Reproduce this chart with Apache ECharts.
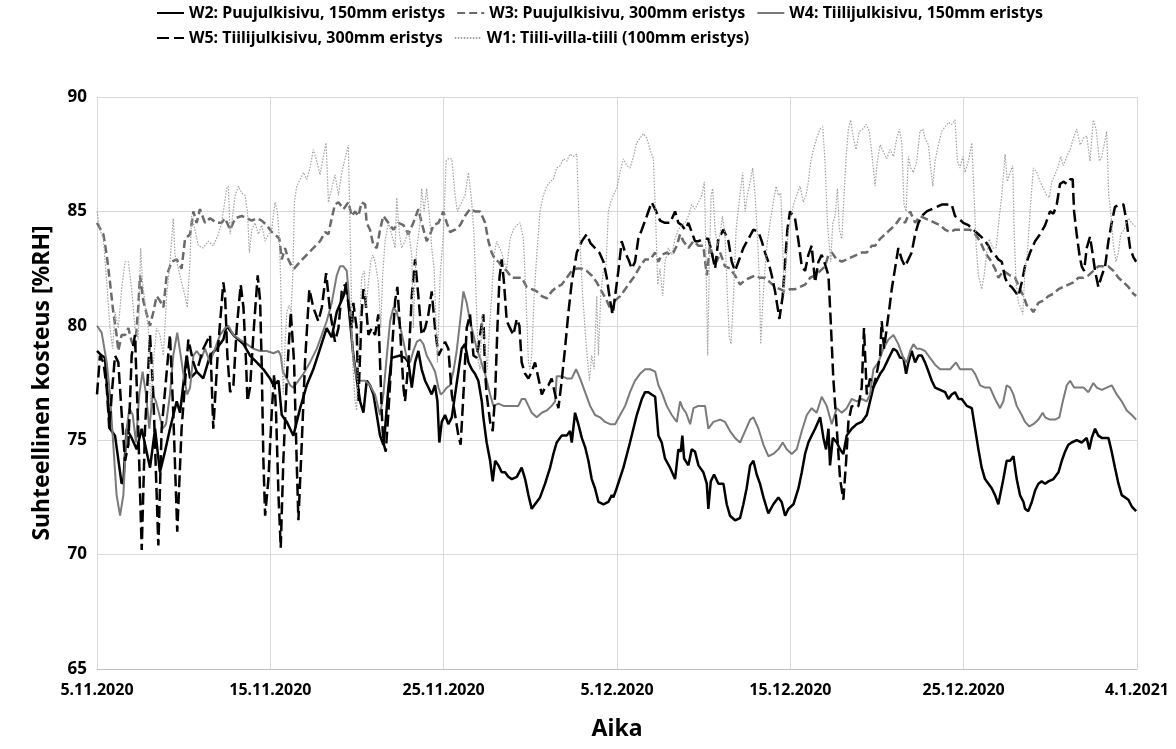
<!DOCTYPE html>
<html>
<head>
<meta charset="utf-8">
<script src="https://cdn.jsdelivr.net/npm/echarts@6/dist/echarts.min.js"></script>
<style>
  html, body { margin: 0; padding: 0; background: #fff; }
  #chart { width: 1176px; height: 749px; }
</style>
</head>
<body>
<div id="chart"></div>
<script>
// x = days since 5.11.2020, y = %RH
var xTickLabels = ["5.11.2020", "15.11.2020", "25.11.2020", "5.12.2020", "15.12.2020", "25.12.2020", "4.1.2021"];

var names = [
  "W2: Puujulkisivu, 150mm eristys",
  "W3: Puujulkisivu, 300mm eristys",
  "W4: Tiilijulkisivu, 150mm eristys",
  "W5: Tiilijulkisivu, 300mm eristys",
  "W1: Tiili-villa-tiili (100mm eristys)"
];

var w2 = [[0,78.9],[0.27,78.7],[0.46,78.6],[0.75,75.5],[1.04,75.2],[1.42,73.1],[1.52,73.2],[1.71,75.5],[2.0,75.1],[2.29,74.6],[2.58,75.5],[3.06,73.8],[3.35,75.5],[3.63,73.6],[3.92,74.5],[4.21,75.5],[4.6,76.7],[4.79,76.2],[5.17,78.7],[5.37,77.7],[5.75,78.0],[6.13,77.7],[6.52,78.7],[6.9,79.0],[7.29,79.4],
  [7.48,80.0],[7.87,79.6],[8.45,79.2],[8.83,78.7],[9.22,78.4],[9.6,78.1],[9.98,77.7],[10.18,77.4],[10.47,77.6],[10.66,76.1],[10.95,75.8],[11.14,75.5],[11.33,75.2],[11.72,76.4],[12.1,77.4],[12.48,78.1],[12.87,79.0],[13.25,79.9],[13.54,79.5],[13.83,80.6],[14.22,81.3],[14.41,81.9],[14.56,80.5],
  [14.79,78.7],[14.98,77.7],[15.18,76.7],[15.37,76.2],[15.56,77.6],[15.75,77.4],[15.95,77.0],[16.14,76.1],[16.33,75.2],[16.52,74.8],[16.62,75.5],[16.81,77.3],[17.0,78.6],[17.48,78.7],[17.77,78.6],[17.97,78.4],[18.16,77.3],[18.35,78.4],[18.54,78.9],[18.73,78.1],[18.93,77.6],[19.12,77.3],[19.31,77.0],[19.5,77.4],[19.64,76.7],[19.75,74.9],[19.89,75.8],[20.08,76.1],[20.27,75.7],[20.47,76.0],[20.66,77.0],[20.85,78.0],[21.04,79.0],[21.23,79.2],[21.43,78.4],[21.62,78.1],[21.81,77.9],[22.0,77.6],[22.2,76.7],
  [22.29,76.0],[22.48,74.9],[22.68,74.1],[22.83,73.2],[22.97,74.1],[23.16,73.9],[23.35,73.6],[23.54,73.6],[23.73,73.4],[23.93,73.3],[24.22,73.4],[24.5,73.8],[24.7,73.3],[24.89,72.6],[25.08,72.0],[25.27,72.2],[25.56,72.5],[25.85,73.1],[26.14,73.8],[26.33,74.4],[26.52,74.9],[26.81,75.2],[27.1,75.2],[27.29,75.4],[27.39,74.9],[27.58,76.2],[27.77,75.7],[27.97,75.1],[28.16,74.7],[28.35,74.1],[28.54,73.3],[28.73,72.9],[28.93,72.3],[29.22,72.2],[29.5,72.3],[29.7,72.6],
  [29.79,72.5],[29.98,72.9],[30.37,73.8],[30.75,74.9],[31.14,76.1],[31.43,76.8],[31.62,77.1],[31.81,77.1],[32.0,77.0],[32.2,76.9],[32.39,75.2],[32.58,74.9],[32.77,74.2],[33.06,73.8],[33.35,73.3],[33.54,74.6],[33.68,74.5],[33.77,75.2],[33.87,74.2],[34.12,73.9],[34.31,74.6],[34.5,74.5],[34.7,73.9],[34.98,73.6],[35.18,73.1],[35.27,72.0],[35.41,73.2],[35.6,73.5],[35.85,73.1],[36.14,73.1],[36.33,72.2],[36.52,71.7],[36.81,71.5],[37.1,71.6],
  [37.29,72.2],[37.48,72.9],[37.68,73.9],[37.87,74.1],[38.06,73.5],[38.25,73.1],[38.45,72.5],[38.73,71.8],[39.02,72.2],[39.31,72.5],[39.5,72.3],[39.7,71.7],[39.89,72.0],[40.18,72.2],[40.47,72.9],[40.66,73.6],[40.85,74.4],[41.04,74.9],[41.23,75.2],[41.43,75.5],[41.72,76.0],[41.91,75.1],[42.06,74.6],[42.2,75.5],[42.29,73.9],[42.45,75.1],[42.68,74.9],[42.87,74.6],[43.06,74.4],[43.25,75.2],[43.54,75.5],[43.83,75.7],[44.12,75.8],[44.41,76.1],[44.6,76.7],
  [44.79,77.3],[44.98,77.6],[45.18,77.9],[45.37,78.1],[45.56,78.4],[45.75,78.7],[45.95,79.0],[46.14,78.9],[46.33,78.6],[46.52,78.6],[46.68,77.9],[46.81,78.4],[47.0,78.9],[47.2,78.4],[47.39,78.7],[47.58,78.7],[47.77,78.4],[47.97,78.0],[48.16,77.6],[48.35,77.3],[48.64,77.2],[48.93,77.1],[49.12,76.8],[49.31,77.0],[49.5,77.1],[49.7,76.8],[49.89,76.8],[50.18,76.5],[50.47,76.4],[50.66,75.5],[50.85,74.6],[51.04,73.8],[51.23,73.3],[51.43,73.1],[51.62,72.9],[51.81,72.6],[52.0,72.2],
  [52.29,73.3],[52.48,74.1],[52.68,74.1],[52.87,74.3],[53.06,73.3],[53.25,72.6],[53.45,72.3],[53.54,72.0],[53.73,71.9],[53.93,72.3],[54.12,72.8],[54.31,73.1],[54.5,73.2],[54.7,73.1],[54.89,73.2],[55.18,73.3],[55.47,73.6],[55.66,74.1],[55.85,74.5],[56.04,74.8],[56.23,74.9],[56.52,75.0],[56.81,74.9],[57.1,75.1],[57.25,74.6],[57.39,75.1],[57.58,75.5],[57.77,75.2],[57.97,75.1],[58.16,75.1],[58.35,75.1],[58.54,74.5],[58.73,73.8],[58.93,73.1],[59.12,72.6],[59.31,72.5],[59.5,72.4],[59.7,72.1],[59.95,71.9]];

var w3 = [[0,84.5],[0.37,84.0],[0.56,83.1],[0.75,81.9],[0.94,80.6],[1.13,79.6],[1.23,78.9],[1.42,79.6],[1.62,79.6],[1.81,79.9],[2.0,79.3],[2.19,79.0],[2.38,80.8],[2.48,82.2],[2.67,81.1],[2.87,80.5],[3.06,80.0],[3.25,80.6],[3.44,81.3],[3.63,81.1],[3.83,80.8],[4.02,82.2],[4.31,82.8],[4.6,82.9],[4.88,82.5],[5.08,83.8],[5.37,84.0],[5.56,85.0],[5.75,84.5],[5.94,85.1],[6.23,84.5],[6.52,84.7],[6.9,84.5],[7.19,84.5],
  [7.39,84.7],[7.68,84.2],[7.97,84.7],[8.35,84.8],[8.64,84.7],[8.93,84.6],[9.22,84.7],[9.5,84.6],[9.79,84.4],[10.08,84.1],[10.27,84.0],[10.52,83.8],[10.66,82.9],[10.85,83.4],[11.04,82.9],[11.23,82.6],[11.37,82.5],[11.72,82.8],[12.1,83.1],[12.48,83.4],[12.87,83.7],[13.16,84.1],[13.35,84.0],[13.54,84.7],[13.73,85.3],[13.93,85.4],[14.22,85.1],[14.5,85.4],[14.7,84.8],
  [14.89,85.0],[15.08,84.8],[15.27,85.4],[15.47,85.3],[15.56,84.5],[15.75,84.2],[15.95,83.5],[16.14,83.4],[16.33,84.2],[16.52,84.8],[16.81,84.5],[17.1,84.2],[17.39,84.5],[17.68,84.4],[17.97,84.0],[18.25,84.5],[18.54,85.1],[18.73,84.5],[19.02,83.7],[19.22,84.0],[19.41,84.4],[19.7,84.5],[19.98,85.0],[20.18,84.5],[20.37,84.1],[20.66,84.2],[20.95,84.4],[21.23,84.8],[21.52,85.1],[21.81,85.0],[22.1,85.0],[22.39,84.5],
  [22.58,83.7],[22.77,83.2],[22.97,82.9],[23.16,82.8],[23.35,82.6],[23.64,82.4],[23.93,82.1],[24.22,82.1],[24.5,82.1],[24.79,81.7],[25.08,81.6],[25.37,81.5],[25.66,81.3],[25.95,81.2],[26.23,81.5],[26.52,81.7],[26.81,81.8],[27.1,82.1],[27.39,82.4],[27.68,82.5],[27.97,82.5],[28.25,82.4],[28.54,82.2],[28.83,81.9],[29.12,81.5],[29.41,81.1],[29.7,80.6],
  [29.89,81.1],[30.18,81.3],[30.47,81.6],[30.75,81.9],[31.04,82.2],[31.33,82.6],[31.62,82.9],[31.91,82.9],[32.2,83.2],[32.39,82.8],[32.58,83.1],[32.87,83.2],[33.06,83.1],[33.25,83.2],[33.45,83.5],[33.64,84.0],[33.83,83.7],[34.12,83.4],[34.41,83.7],[34.7,83.5],[34.98,83.5],[35.18,82.2],[35.37,83.5],[35.56,82.9],[35.75,82.8],[35.95,83.2],[36.23,82.6],[36.52,82.5],[36.81,82.2],[37.1,81.8],
  [37.39,82.0],[37.68,82.1],[37.97,82.2],[38.25,82.1],[38.54,82.1],[38.83,81.9],[39.12,81.7],[39.41,81.6],[39.7,81.5],[39.98,81.6],[40.27,81.6],[40.56,81.7],[40.85,81.8],[41.14,82.1],[41.43,82.2],[41.72,82.4],[42.0,82.6],[42.2,83.1],[42.39,83.2],[42.68,82.9],[42.97,82.8],[43.25,82.9],[43.54,83.0],[43.83,83.1],[44.12,83.2],[44.41,83.2],[44.7,83.5],
  [44.89,83.5],[45.18,83.8],[45.47,84.0],[45.75,84.2],[46.04,84.4],[46.33,84.7],[46.62,84.5],[46.91,85.0],[47.2,84.5],[47.48,84.8],[47.77,84.7],[48.06,84.6],[48.35,84.5],[48.64,84.4],[48.93,84.2],[49.22,84.1],[49.5,84.2],[49.79,84.2],[50.08,84.2],[50.37,84.2],[50.66,84.0],[50.95,83.7],[51.23,83.2],[51.52,82.9],[51.81,82.5],[52.0,82.1],
  [52.29,82.4],[52.68,82.2],[52.97,82.1],[53.25,81.6],[53.45,81.3],[53.64,80.9],[53.83,80.8],[54.02,80.6],[54.31,81.0],[54.6,81.1],[54.89,81.3],[55.18,81.4],[55.47,81.6],[55.75,81.7],[56.04,81.8],[56.33,81.9],[56.62,82.1],[56.91,82.1],[57.2,82.2],[57.48,82.4],[57.77,82.6],[58.06,82.6],[58.35,82.6],[58.64,82.4],[58.93,82.1],[59.22,81.9],[59.5,81.7],[59.79,81.4],[59.95,81.3]];

var w4 = [[0,80.0],[0.27,79.7],[0.56,78.4],[0.75,77.0],[0.94,74.8],[1.13,72.6],[1.33,71.7],[1.52,72.6],[1.71,75.5],[1.87,76.4],[2.06,76.1],[2.25,74.9],[2.44,77.0],[2.63,78.0],[2.83,77.0],[3.02,75.5],[3.21,77.0],[3.4,76.7],[3.6,76.1],[3.79,75.5],[3.98,75.7],[4.21,77.0],[4.4,78.7],[4.63,79.7],[4.83,78.7],[5.02,77.7],[5.21,77.0],[5.37,77.3],[5.56,78.7],[5.75,78.9],[6.04,78.6],[6.23,79.0],[6.52,78.4],[6.81,79.0],[7.1,79.6],
  [7.39,79.9],[7.58,80.0],[7.87,79.6],[8.25,79.4],[8.64,79.2],[9.02,79.0],[9.41,78.9],[9.79,78.9],[10.18,78.8],[10.47,78.9],[10.6,78.7],[10.72,78.0],[10.95,77.7],[11.14,77.4],[11.33,77.3],[11.62,77.6],[11.91,77.9],[12.29,78.4],[12.68,79.0],[12.97,79.6],[13.25,80.2],[13.54,81.0],[13.83,82.2],[14.02,82.6],[14.22,82.6],[14.41,82.4],[14.6,80.6],[14.79,78.6],
  [14.98,77.7],[15.18,77.6],[15.47,77.6],[15.75,77.4],[16.04,77.0],[16.33,76.1],[16.52,77.0],[16.72,78.7],[16.91,80.2],[17.1,80.8],[17.29,80.6],[17.48,80.0],[17.68,79.3],[17.87,78.6],[18.06,78.4],[18.25,78.9],[18.45,79.3],[18.64,79.4],[18.83,79.2],[19.02,78.7],[19.31,78.3],[19.5,78.0],[19.7,77.3],[19.83,77.0],[19.98,77.1],[20.18,77.3],[20.37,77.4],[20.56,78.0],[20.75,78.9],[20.95,80.2],[21.14,81.5],[21.33,81.0],[21.52,80.2],[21.72,79.6],[21.91,79.0],[22.1,78.6],[22.29,78.1],
  [22.39,77.9],[22.68,77.0],[22.87,76.5],[23.16,76.6],[23.45,76.5],[23.73,76.5],[24.02,76.5],[24.31,76.5],[24.5,76.8],[24.7,76.8],[24.89,76.5],[25.08,76.2],[25.37,76.0],[25.66,76.2],[25.95,76.3],[26.23,76.5],[26.43,76.7],[26.52,77.8],[26.81,77.8],[27.1,77.7],[27.39,77.7],[27.64,78.1],[27.87,77.7],[28.16,77.1],[28.45,76.5],[28.73,76.1],[29.02,76.0],[29.31,75.8],[29.6,75.7],
  [29.89,75.7],[30.18,76.1],[30.47,76.5],[30.75,77.1],[31.04,77.6],[31.33,77.9],[31.62,78.1],[31.91,78.1],[32.2,78.0],[32.39,77.4],[32.58,77.1],[32.87,76.5],[33.16,76.1],[33.45,75.8],[33.64,76.7],[33.79,76.4],[33.98,76.2],[34.22,75.7],[34.41,76.4],[34.7,76.5],[35.08,76.5],[35.27,75.5],[35.56,75.8],[35.95,75.9],[36.23,75.8],[36.52,75.4],[36.81,75.1],[37.1,74.9],
  [37.39,75.4],[37.68,75.9],[37.87,76.0],[38.16,75.5],[38.45,74.8],[38.73,74.3],[39.02,74.4],[39.31,74.6],[39.56,74.9],[39.79,74.6],[40.08,74.4],[40.37,74.6],[40.66,75.4],[40.95,76.1],[41.23,76.4],[41.52,76.2],[41.81,76.9],[42.1,76.5],[42.39,75.7],[42.68,76.4],[42.97,76.2],[43.25,76.4],[43.54,76.8],[43.83,76.7],[44.12,76.8],[44.41,76.7],[44.6,77.0],
  [44.79,78.1],[45.08,78.4],[45.37,79.0],[45.66,79.4],[45.95,79.6],[46.23,79.2],[46.52,78.6],[46.72,78.4],[46.91,78.9],[47.1,79.2],[47.29,79.0],[47.48,79.0],[47.77,78.9],[48.06,78.6],[48.35,78.3],[48.64,78.1],[48.93,78.1],[49.22,78.1],[49.56,78.4],[49.79,78.1],[50.18,78.1],[50.47,78.1],[50.66,77.9],[50.95,77.4],[51.23,77.3],[51.52,77.3],[51.81,76.8],[52.1,76.4],
  [52.29,76.7],[52.48,77.4],[52.68,77.3],[52.87,77.0],[53.06,76.5],[53.35,76.1],[53.54,75.8],[53.79,75.6],[54.02,75.7],[54.31,75.9],[54.56,76.2],[54.7,76.0],[54.98,75.9],[55.27,75.9],[55.52,76.0],[55.72,76.7],[55.95,77.4],[56.14,77.6],[56.37,77.3],[56.62,77.3],[56.91,77.3],[57.2,77.1],[57.48,77.5],[57.68,77.3],[57.97,77.2],[58.25,77.3],[58.54,77.4],[58.83,77.0],[59.12,76.7],[59.41,76.3],[59.7,76.1],[59.95,75.9]];

var w5 = [[0,77.0],[0.17,78.7],[0.37,78.4],[0.56,77.3],[0.71,75.5],[0.85,77.0],[1.04,78.7],[1.23,78.4],[1.42,76.2],[1.62,74.1],[1.81,74.8],[2.0,78.7],[2.19,79.6],[2.38,75.5],[2.58,70.2],[2.77,75.5],[3.06,79.6],[3.25,77.0],[3.54,70.4],[3.73,75.5],[4.21,79.6],[4.4,76.2],[4.63,71.0],[4.88,75.5],[5.27,79.4],[5.56,78.4],[5.75,78.0],[6.13,79.0],[6.52,79.6],[6.71,75.5],[7.0,79.2],[7.29,81.9],
  [7.39,81.3],[7.52,78.7],[7.68,77.1],[7.87,77.4],[8.06,79.9],[8.29,81.8],[8.45,80.8],[8.6,78.4],[8.68,76.7],[8.83,77.3],[9.02,79.6],[9.27,82.2],[9.41,81.1],[9.5,78.4],[9.6,74.1],[9.7,71.7],[9.89,73.3],[10.08,76.2],[10.22,77.9],[10.33,76.2],[10.47,72.6],[10.6,70.3],[10.75,74.1],[10.95,77.7],[11.18,80.6],[11.37,78.4],[11.52,74.1],[11.62,71.5],[11.81,74.8],[12.0,78.4],[12.25,81.6],[12.48,80.8],[12.77,80.2],[12.97,80.8],[13.22,82.3],[13.45,80.6],[13.73,79.3],[13.93,79.9],[14.12,81.5],[14.31,81.8],[14.5,81.0],[14.7,79.9],
  [14.79,81.0],[14.98,79.9],[15.08,76.7],[15.27,80.6],[15.37,81.6],[15.47,81.3],[15.66,79.6],[15.85,79.9],[16.04,79.6],[16.23,80.5],[16.33,78.4],[16.43,76.2],[16.52,74.9],[16.66,74.5],[16.81,76.2],[17.0,78.7],[17.2,81.1],[17.33,81.7],[17.48,79.9],[17.68,77.3],[17.77,76.7],[17.97,78.4],[18.16,81.3],[18.35,82.9],[18.54,81.3],[18.73,79.6],[18.93,79.9],[19.12,80.5],[19.31,81.5],[19.5,79.9],[19.7,78.7],[19.89,79.0],[20.08,79.3],[20.27,79.0],[20.47,77.0],[20.66,76.1],[20.85,75.2],[20.98,74.8],[21.14,77.0],[21.33,79.9],[21.52,80.5],[21.72,78.7],[21.91,78.6],[22.1,79.6],[22.29,80.5],
  [22.39,78.0],[22.48,77.0],[22.68,75.8],[22.83,75.4],[22.97,77.0],[23.1,79.9],[23.22,82.1],[23.35,82.9],[23.48,81.9],[23.64,80.2],[23.83,79.9],[24.02,79.6],[24.22,80.3],[24.37,80.0],[24.5,78.4],[24.7,77.9],[24.89,77.7],[25.08,78.0],[25.27,78.4],[25.47,77.7],[25.66,77.0],[25.85,77.3],[26.04,77.4],[26.23,77.7],[26.43,77.0],[26.62,76.4],[26.81,77.6],[27.0,79.0],[27.2,80.6],[27.39,81.9],[27.68,83.2],[27.97,83.7],[28.25,84.0],[28.48,83.6],[28.73,83.4],[28.98,83.2],[29.22,82.8],[29.41,82.1],[29.6,81.1],[29.75,80.5],
  [29.89,81.3],[30.08,82.4],[30.27,83.7],[30.47,83.2],[30.66,82.9],[30.85,82.5],[31.04,82.8],[31.23,83.8],[31.43,84.2],[31.72,84.8],[32.0,85.4],[32.2,85.1],[32.48,84.6],[32.77,84.5],[33.06,84.5],[33.35,85.0],[33.54,84.5],[33.73,84.4],[33.93,84.2],[34.12,84.5],[34.31,84.1],[34.5,83.7],[34.7,83.7],[34.98,83.8],[35.27,83.8],[35.47,83.2],[35.66,82.5],[35.85,83.8],[36.14,84.2],[36.43,83.7],[36.62,82.8],[36.81,82.4],[37.1,83.0],
  [37.29,83.4],[37.58,83.8],[37.87,84.2],[38.16,84.1],[38.35,83.7],[38.54,83.2],[38.73,82.8],[38.93,82.2],[39.12,81.5],[39.37,80.3],[39.56,81.3],[39.7,82.8],[39.83,84.2],[39.98,85.0],[40.27,84.7],[40.47,83.7],[40.66,82.6],[40.85,82.4],[41.04,83.1],[41.23,83.5],[41.43,81.9],[41.62,82.8],[41.81,83.1],[42.0,82.7],[42.2,82.2],[42.33,80.2],[42.48,77.7],[42.68,75.5],[42.87,73.3],[43.06,72.4],[43.22,74.1],[43.35,75.8],[43.54,76.5],[43.73,76.4],[43.93,76.5],[44.12,77.3],[44.25,79.9],[44.41,77.0],[44.6,77.7],
  [44.79,77.3],[44.98,77.9],[45.18,78.7],[45.27,80.2],[45.41,79.0],[45.56,79.9],[45.72,80.8],[45.85,81.6],[46.04,82.5],[46.23,83.4],[46.43,82.9],[46.62,82.6],[46.81,82.9],[47.0,83.2],[47.2,84.0],[47.39,84.5],[47.58,84.8],[47.87,85.0],[48.16,85.1],[48.45,85.2],[48.73,85.3],[49.02,85.3],[49.31,85.3],[49.5,84.8],[49.7,84.7],[49.98,84.5],[50.27,84.4],[50.56,84.2],[50.85,84.0],[51.14,83.8],[51.43,83.5],[51.62,83.2],[51.81,83.1],[52.0,82.9],[52.2,82.8],
  [52.39,82.1],[52.58,81.8],[52.77,81.7],[52.97,81.5],[53.16,81.3],[53.35,81.9],[53.54,82.6],[53.83,83.2],[54.12,83.7],[54.41,84.0],[54.7,84.4],[54.98,85.0],[55.18,84.9],[55.37,85.3],[55.56,86.2],[55.75,86.3],[55.95,86.2],[56.14,86.4],[56.29,86.4],[56.37,85.0],[56.52,84.0],[56.68,83.1],[56.81,82.6],[56.95,82.4],[57.1,83.4],[57.29,83.9],[57.45,83.1],[57.58,82.4],[57.77,81.7],[57.97,82.2],[58.16,82.6],[58.35,83.7],[58.54,84.5],[58.73,85.2],[58.98,85.3],[59.22,85.3],[59.41,84.5],[59.6,83.4],[59.79,83.0],[59.95,82.8]];

var w1 = [[0,85.0],[0.17,84.2],[0.37,83.8],[0.56,81.9],[0.75,79.9],[0.9,79.0],[1.04,80.6],[1.23,79.9],[1.42,81.6],[1.62,82.8],[1.81,82.8],[2.0,81.6],[2.19,79.9],[2.38,79.4],[2.52,83.4],[2.63,81.9],[2.77,81.0],[2.96,79.9],[3.1,76.4],[3.25,78.4],[3.44,79.9],[3.63,79.6],[3.83,78.7],[4.02,81.3],[4.21,82.8],[4.4,84.7],[4.5,83.1],[4.69,82.5],[4.88,81.9],[5.08,81.3],[5.21,80.8],[5.37,82.9],[5.46,84.8],[5.65,84.2],[5.85,83.5],[6.13,83.4],[6.42,83.7],[6.71,83.5],[7.0,84.0],[7.19,84.5],
  [7.29,84.5],[7.48,86.0],[7.58,86.1],[7.68,84.0],[7.77,84.5],[7.97,85.7],[8.16,86.1],[8.35,85.8],[8.54,85.7],[8.68,85.0],[8.79,83.2],[8.93,84.2],[9.12,84.5],[9.31,84.0],[9.5,84.4],[9.7,83.7],[9.89,84.0],[10.08,84.2],[10.27,85.4],[10.41,85.0],[10.52,83.8],[10.6,81.9],[10.68,78.4],[10.75,77.0],[10.85,79.2],[10.95,80.6],[11.08,80.9],[11.2,80.6],[11.29,82.1],[11.39,85.4],[11.52,86.1],[11.72,86.4],[11.91,86.7],[12.1,86.4],[12.29,86.9],[12.48,87.7],[12.68,87.2],[12.87,86.6],[13.06,87.4],[13.22,88.0],[13.35,85.4],[13.54,86.0],[13.73,86.6],[13.93,85.7],[14.12,86.7],[14.31,87.3],[14.5,87.9],[14.64,82.8],[14.75,78.4],[14.89,76.7],
  [14.98,76.3],[15.14,79.9],[15.27,82.1],[15.41,82.4],[15.52,80.8],[15.66,81.9],[15.79,82.8],[15.91,83.1],[16.04,82.8],[16.23,81.9],[16.37,79.9],[16.48,82.2],[16.62,83.7],[16.81,84.5],[17.0,84.0],[17.2,83.4],[17.29,85.6],[17.45,84.0],[17.58,83.4],[17.77,83.7],[17.97,84.2],[18.16,83.1],[18.25,79.9],[18.35,82.2],[18.45,83.4],[18.64,84.5],[18.73,86.0],[18.87,85.0],[19.02,86.0],[19.18,84.8],[19.31,83.4],[19.45,82.5],[19.64,78.4],[19.79,82.1],[19.98,84.0],[20.14,87.2],[20.27,87.3],[20.47,87.3],[20.66,85.7],[20.79,85.0],[20.98,85.3],[21.23,85.7],[21.43,86.7],[21.62,85.4],[21.75,84.0],[21.87,81.3],[22.0,78.4],[22.1,78.1],[22.22,80.5],[22.39,79.0],[22.52,78.1],
  [22.64,79.9],[22.77,81.3],[22.91,83.1],[23.06,83.7],[23.22,83.4],[23.35,83.2],[23.48,82.8],[23.64,82.5],[23.83,83.8],[24.02,84.2],[24.22,84.4],[24.41,84.5],[24.6,83.8],[24.75,81.3],[24.89,78.4],[24.98,78.1],[25.08,78.7],[25.22,81.3],[25.37,83.1],[25.56,85.0],[25.75,85.7],[25.95,86.1],[26.14,86.3],[26.33,86.4],[26.52,86.9],[26.72,87.0],[26.91,87.3],[27.1,87.2],[27.29,87.5],[27.48,87.4],[27.68,87.5],[27.83,84.2],[28.02,81.3],[28.22,79.2],[28.41,77.6],[28.54,78.7],[28.68,78.1],[28.83,81.3],[28.93,78.7],[29.06,81.3],[29.22,82.5],[29.37,82.6],[29.5,85.0],[29.64,85.4],[29.79,85.7],
  [29.98,86.0],[30.18,86.7],[30.37,87.3],[30.56,87.0],[30.75,86.9],[30.95,87.4],[31.14,88.0],[31.33,88.2],[31.52,88.4],[31.72,88.2],[31.91,87.7],[32.1,87.3],[32.25,84.2],[32.35,81.8],[32.48,82.5],[32.64,81.3],[32.77,82.8],[32.97,83.4],[33.16,83.1],[33.35,83.8],[33.54,84.2],[33.73,84.4],[33.93,84.5],[34.12,84.8],[34.31,85.3],[34.5,85.1],[34.7,85.4],[34.89,85.7],[35.04,86.3],[35.14,82.8],[35.23,78.7],[35.33,82.8],[35.43,85.7],[35.52,86.0],[35.66,84.2],[35.79,83.5],[35.95,84.0],[36.08,84.8],[36.23,84.0],[36.37,81.3],[36.48,79.5],[36.58,79.2],[36.72,81.3],[36.87,84.2],[37.0,85.1],
  [37.25,86.7],[37.39,85.0],[37.52,85.7],[37.68,86.3],[37.83,86.9],[37.97,85.7],[38.1,84.0],[38.22,81.9],[38.29,79.2],[38.41,81.0],[38.54,82.5],[38.68,83.7],[38.83,84.5],[39.02,85.4],[39.18,86.1],[39.31,85.7],[39.45,85.8],[39.56,83.5],[39.64,81.3],[39.75,82.8],[39.89,84.2],[40.02,84.7],[40.18,85.3],[40.37,85.7],[40.56,86.1],[40.75,85.4],[40.91,85.7],[41.04,86.3],[41.18,87.2],[41.33,87.7],[41.52,88.2],[41.72,88.6],[41.87,88.7],[42.0,87.2],[42.14,84.5],[42.25,83.5],[42.33,82.8],[42.45,84.5],[42.58,84.8],[42.72,86.0],[42.83,84.2],[42.97,83.8],[43.1,85.7],[43.22,87.4],[43.35,88.6],[43.48,89.0],[43.64,88.2],[43.79,87.7],[43.98,88.5],[44.18,88.6],[44.37,88.8],[44.56,88.5],[44.72,87.4],[44.89,86.1],
  [45.02,87.2],[45.18,87.9],[45.37,87.6],[45.56,87.3],[45.75,87.7],[45.95,87.4],[46.14,88.2],[46.29,88.6],[46.43,88.0],[46.56,85.3],[46.68,85.0],[46.81,87.4],[46.95,86.9],[47.1,86.7],[47.29,87.2],[47.48,88.5],[47.64,88.6],[47.77,88.2],[47.97,87.9],[48.1,86.9],[48.22,86.1],[48.35,87.2],[48.54,87.9],[48.73,88.5],[48.93,88.7],[49.12,88.9],[49.31,88.8],[49.5,89.0],[49.64,87.2],[49.79,86.9],[49.95,87.4],[50.08,86.7],[50.27,87.2],[50.47,88.0],[50.6,85.7],[50.72,83.5],[50.85,82.2],[51.04,81.6],[51.18,82.2],[51.33,83.2],[51.48,83.8],[51.68,83.4],[51.87,83.4],[52.06,84.8],[52.2,85.7],
  [52.39,87.5],[52.52,86.3],[52.68,86.7],[52.83,87.0],[52.91,84.2],[53.02,81.9],[53.16,81.0],[53.29,80.8],[53.41,80.5],[53.54,82.5],[53.68,83.2],[53.83,85.0],[54.02,86.9],[54.22,86.7],[54.41,86.3],[54.6,86.0],[54.79,85.7],[54.95,85.6],[55.08,86.3],[55.27,86.6],[55.47,87.0],[55.6,87.4],[55.75,87.0],[55.95,87.4],[56.14,87.7],[56.33,88.2],[56.52,88.6],[56.72,87.9],[56.91,88.2],[57.1,88.3],[57.29,87.2],[57.48,89.0],[57.64,88.6],[57.83,87.2],[57.97,87.4],[58.1,87.9],[58.25,88.5],[58.37,85.7],[58.48,85.0],[58.64,83.5],[58.79,82.8],[58.93,83.2],[59.06,84.0],[59.25,84.2],[59.5,84.7],[59.7,84.5],[59.95,84.3]];

var FONT = "'Noto Sans', 'DejaVu Sans', sans-serif";

var chart = echarts.init(document.getElementById("chart"));

function lineSeries(name, data, color, width, type) {
  return {
    name: name,
    type: "line",
    data: data,
    symbol: "none",
    animation: false,
    lineStyle: { color: color, width: width, type: type },
    itemStyle: { color: color }
  };
}

var legendText = { fontFamily: FONT, fontWeight: "bold", fontSize: 16, color: "#000" };
// hide the marker dot, keep the line sample
var legendBase = {
  left: 156, padding: 0,
  itemWidth: 27, itemHeight: 12, itemGap: 11,
  itemStyle: { opacity: 0 },
  textStyle: legendText
};

var option = {
  backgroundColor: "#fff",
  legend: [
    Object.assign({}, legendBase, { top: 5, data: [names[0], names[1], names[2]] }),
    Object.assign({}, legendBase, { top: 30, data: [names[3], names[4]] })
  ],
  grid: { left: 97, right: 39, top: 97, bottom: 80 },
  xAxis: {
    type: "value",
    min: 0, max: 60, interval: 10,
    name: "Aika",
    nameLocation: "middle",
    nameGap: 49,
    nameTextStyle: { fontFamily: FONT, fontWeight: "bold", fontSize: 23, color: "#000" },
    axisLine: { lineStyle: { color: "#bfbfbf", width: 1 } },
    axisTick: { show: false },
    axisLabel: {
      margin: 13,
      fontFamily: FONT, fontWeight: "bold", fontSize: 16, color: "#000",
      formatter: function (v) { return xTickLabels[Math.round(v / 10)]; }
    },
    splitLine: { show: true, lineStyle: { color: "#d9d9d9", width: 1 } }
  },
  yAxis: {
    type: "value",
    min: 65, max: 90, interval: 5,
    name: "Suhteellinen kosteus [%RH]",
    nameLocation: "middle",
    nameGap: 43,
    nameTextStyle: { fontFamily: FONT, fontWeight: "bold", fontSize: 23, color: "#000" },
    axisLine: { show: false },
    axisTick: { show: false },
    axisLabel: { margin: 10, fontFamily: FONT, fontWeight: "bold", fontSize: 17, color: "#000" },
    splitLine: { show: true, lineStyle: { color: "#d9d9d9", width: 1 } }
  },
  series: [
    lineSeries(names[0], w2, "#000000", 2.5, "solid"),
    lineSeries(names[1], w3, "#6a6a6a", 2.5, [8, 4]),
    lineSeries(names[2], w4, "#7a7a7a", 2, "solid"),
    lineSeries(names[3], w5, "#000000", 2.5, [12, 5]),
    lineSeries(names[4], w1, "#a0a0a0", 1.2, [1.5, 1.5])
  ]
};

chart.setOption(option);
</script>
</body>
</html>
